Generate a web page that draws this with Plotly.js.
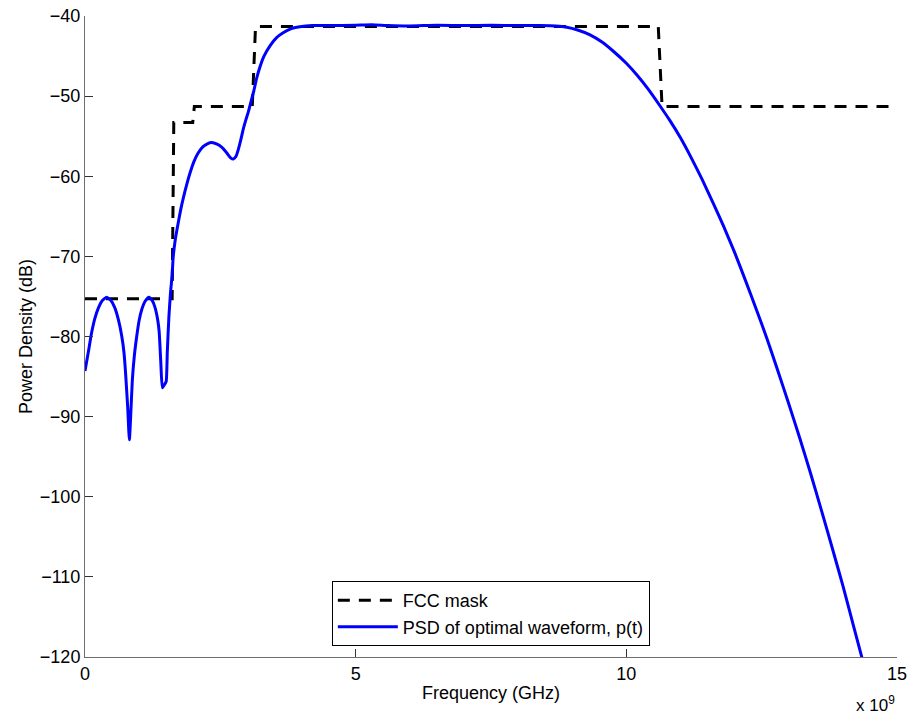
<!DOCTYPE html>
<html>
<head>
<meta charset="utf-8">
<script src="https://cdn.plot.ly/plotly-3.0.1.min.js"></script>
<style>
  html, body { margin: 0; padding: 0; background: #fff; }
  #chart { width: 910px; height: 715px; }
</style>
</head>
<body>
<div id="chart"></div>
<script>
// FCC indoor UWB emission mask (GHz, dB)
var maskFreq = [0, 1.61, 1.64, 1.99, 2.02, 3.09, 3.15, 10.59, 10.66, 15];
var maskDb   = [-75.3, -75.3, -53.3, -53.3, -51.3, -51.3, -41.3, -41.3, -51.3, -51.3];

// Power spectral density of the optimal pulse p(t) (GHz, dB)
var psdFreq = [
  0, 0.06, 0.12, 0.18, 0.25, 0.32, 0.40, 0.48, 0.55, 0.62, 0.68, 0.72, 0.75, 0.79, 0.82,
  0.85, 0.875, 0.91, 0.955, 1.0, 1.05, 1.11, 1.18, 1.24, 1.29, 1.34, 1.37, 1.40, 1.43,
  1.47, 1.50, 1.52, 1.55, 1.58, 1.61, 1.63, 1.67, 1.72, 1.77, 1.82, 1.88, 1.94, 2.01,
  2.09, 2.18, 2.26, 2.34, 2.44, 2.53, 2.62, 2.69, 2.74, 2.79, 2.83, 2.88, 2.92, 2.97,
  3.02, 3.07, 3.12, 3.17, 3.23, 3.30, 3.42, 3.54, 3.66, 3.80, 3.97, 4.2, 4.5, 5.0,
  5.3, 5.6, 6.0, 6.5, 7.0, 7.5, 8.0, 8.4, 8.7, 8.9, 9.1, 9.33, 9.55, 9.76, 10.0, 10.2,
  10.4, 10.62, 10.8, 11.0, 11.2, 11.4, 11.6, 11.8, 12.0, 12.2, 12.4, 12.6, 12.8, 13.0,
  13.2, 13.4, 13.6, 13.8, 14.0, 14.2, 14.4
];
var psdDb = [
  -84.3, -82.0, -79.6, -77.8, -76.4, -75.5, -75.1, -75.5, -76.4, -78.0, -80.0, -82.0, -84.6, -89.0, -92.9,
  -89.0, -85.4, -82.5, -80.0, -78.0, -76.6, -75.6, -75.1, -75.5, -76.3, -77.8, -79.4, -83.2, -86.4,
  -86.0, -85.6, -82.0, -77.5, -74.5, -72.3, -70.0, -67.8, -65.9, -64.1, -62.6, -61.0, -59.6, -58.2,
  -57.1, -56.3, -55.95, -55.8, -56.0, -56.4, -57.1, -57.7, -57.85, -57.5, -56.7, -55.4, -54.2, -53.0,
  -51.9, -50.6, -49.3, -47.8, -46.4, -45.1, -43.7, -42.7, -42.1, -41.6, -41.35, -41.2, -41.2, -41.15,
  -41.1, -41.2, -41.25, -41.15, -41.2, -41.15, -41.2, -41.2, -41.25, -41.4, -41.75, -42.35, -43.25, -44.4, -45.9, -47.4,
  -49.1, -51.2, -53.0, -55.2, -57.7, -60.4, -63.3, -66.3, -69.5, -73.0, -76.6, -80.3, -84.3, -88.4,
  -92.6, -97.0, -101.6, -106.3, -111.1, -116.2, -121.3
];

var xTicks = [0, 5, 10, 15];
var yTicks = [-120, -110, -100, -90, -80, -70, -60, -50, -40];

var fontFamily = 'Liberation Sans, Arial, Helvetica, sans-serif';
var fontSize = 18;

var traces = [
  {
    x: maskFreq, y: maskDb, type: 'scatter', mode: 'lines', name: 'FCC mask',
    line: { color: '#000000', width: 3, dash: '12px,9px' }
  },
  {
    x: psdFreq, y: psdDb, type: 'scatter', mode: 'lines', name: 'PSD of optimal waveform, p(t)',
    line: { color: '#0000ff', width: 3, shape: 'spline', smoothing: 0.5 }
  }
];

var axisCommon = {
  showgrid: false, zeroline: false, showline: true, linecolor: '#6e6e6e', linewidth: 1,
  ticks: 'inside', ticklen: 8, tickcolor: '#333333', tickwidth: 1,
  tickfont: { family: fontFamily, size: fontSize, color: '#000' }, mirror: false
};

var layout = {
  width: 910, height: 715,
  margin: { l: 85, r: 13, t: 16, b: 58 },
  paper_bgcolor: '#ffffff', plot_bgcolor: '#ffffff',
  font: { family: fontFamily, size: fontSize, color: '#000' },
  showlegend: true,
  xaxis: Object.assign({}, axisCommon, {
    range: [0, 15], tickvals: xTicks, ticktext: xTicks.map(String),
    title: { text: 'Frequency (GHz)', font: { family: fontFamily, size: fontSize }, standoff: 3 }
  }),
  yaxis: Object.assign({}, axisCommon, {
    range: [-120, -40], tickvals: yTicks,
    ticktext: yTicks.map(function (v) { return (v < 0 ? '\u2212' : '') + Math.abs(v); }),
    title: { text: 'Power Density (dB)', font: { family: fontFamily, size: fontSize }, standoff: 2 }
  }),
  legend: {
    x: 0.304, y: 0.017, xanchor: 'left', yanchor: 'bottom',
    bgcolor: '#ffffff', bordercolor: '#000000', borderwidth: 1,
    font: { family: fontFamily, size: fontSize, color: '#000' },
    itemwidth: 60, tracegroupgap: 0
  },
  annotations: [
    {
      text: 'x 10<sup>9</sup>', xref: 'paper', yref: 'paper', x: 1.0, y: 0, xanchor: 'right', yanchor: 'top',
      yshift: -34, showarrow: false, font: { family: fontFamily, size: 17, color: '#000' }
    }
  ]
};

Plotly.newPlot('chart', traces, layout, { displayModeBar: false, staticPlot: true });
</script>
</body>
</html>
